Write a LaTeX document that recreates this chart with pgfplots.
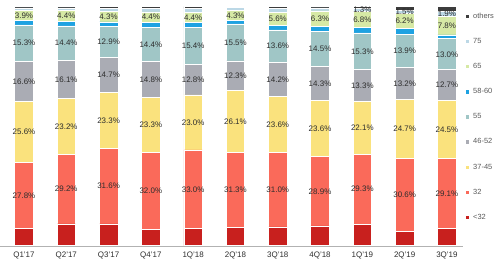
\documentclass[border=0pt]{standalone}
\usepackage{pgfplots}
\pgfplotsset{compat=1.18}
\usepackage{fontspec}
\setmainfont{Liberation Sans}
\definecolor{cA}{RGB}{200,32,30}
\definecolor{cB}{RGB}{250,106,90}
\definecolor{cC}{RGB}{250,226,125}
\definecolor{cD}{RGB}{170,172,180}
\definecolor{cE}{RGB}{160,198,198}
\definecolor{cF}{RGB}{30,162,226}
\definecolor{cG}{RGB}{214,233,165}
\definecolor{cH}{RGB}{188,216,230}
\definecolor{cI}{RGB}{60,60,60}
\definecolor{txt}{RGB}{45,45,45}
\pgfplotsset{
  lbl/.style={
    nodes near coords={\pgfplotspointmeta},
    point meta=explicit symbolic,
    every node near coord/.append style={anchor=center,
      font=\fontsize{8}{9}\selectfont, text=txt, inner sep=0pt},
  },
}
\begin{document}
\begin{tikzpicture}
\useasboundingbox (0,0) rectangle (500bp,264bp);
\begin{axis}[
  at={(0bp,18.3bp)}, anchor=south west,
  scale only axis, width=463bp, height=239bp,
  ybar stacked, bar width=18.5bp,
  xmin=-0.567, xmax=10.38, ymin=0, ymax=100,
  axis x line=bottom, axis y line=none,
  x axis line style={draw=black!30, -},
  xtick={0,...,10},
  xticklabels={Q1'17,Q2'17,Q3'17,Q4'17,1Q'18,2Q'18,3Q'18,4Q'18,1Q'19,2Q'19,3Q'19},
  major tick length=0pt,
  xticklabel style={font=\fontsize{8}{9}\selectfont, text=txt, yshift=-3bp},
  every axis plot/.append style={draw=white, line width=0.6bp},
  reverse legend,
  legend cell align=left,
  legend image code/.code={\fill[#1,draw=none] (0bp,-1.6bp) rectangle (3.2bp,1.6bp);},
  legend style={at={(1.0065,0.982)}, anchor=north west, draw=none, fill=none,
    font=\fontsize{7.5}{8}\selectfont, text=black!65, row sep=14.4bp, column sep=1.8bp,
    inner sep=0pt},
]
\addplot[fill=cA] coordinates {(0,7.1)(1,9.1)(2,9.1)(3,6.9)(4,7.1)(5,7.6)(6,7.9)(7,8.3)(8,9.0)(9,6.0)(10,7.3)};
\addplot[fill=cB,lbl] coordinates {(0,27.8)[27.8\%](1,29.2)[29.2\%](2,31.6)[31.6\%](3,32.0)[32.0\%](4,33.0)[33.0\%](5,31.3)[31.3\%](6,31.0)[31.0\%](7,28.9)[28.9\%](8,29.3)[29.3\%](9,30.6)[30.6\%](10,29.1)[29.1\%]};
\addplot[fill=cC,lbl] coordinates {(0,25.6)[25.6\%](1,23.2)[23.2\%](2,23.3)[23.3\%](3,23.3)[23.3\%](4,23.0)[23.0\%](5,26.1)[26.1\%](6,23.6)[23.6\%](7,23.6)[23.6\%](8,22.1)[22.1\%](9,24.7)[24.7\%](10,24.5)[24.5\%]};
\addplot[fill=cD,lbl] coordinates {(0,16.6)[16.6\%](1,16.1)[16.1\%](2,14.7)[14.7\%](3,14.8)[14.8\%](4,12.8)[12.8\%](5,12.3)[12.3\%](6,14.2)[14.2\%](7,14.3)[14.3\%](8,13.3)[13.3\%](9,13.2)[13.2\%](10,12.7)[12.7\%]};
\addplot[fill=cE,lbl] coordinates {(0,15.3)[15.3\%](1,14.4)[14.4\%](2,12.9)[12.9\%](3,14.4)[14.4\%](4,15.4)[15.4\%](5,15.5)[15.5\%](6,13.6)[13.6\%](7,14.5)[14.5\%](8,15.3)[15.3\%](9,13.9)[13.9\%](10,13.0)[13.0\%]};
\addplot[fill=cF] coordinates {(0,2.0)(1,2.0)(2,2.0)(3,2.0)(4,2.0)(5,1.3)(6,1.8)(7,2.3)(8,2.3)(9,2.5)(10,1.6)};
\addplot[fill=cG,lbl] coordinates {(0,3.9)[3.9\%](1,4.4)[4.4\%](2,4.3)[4.3\%](3,4.4)[4.4\%](4,4.4)[4.4\%](5,4.3)[4.3\%](6,5.6)[5.6\%](7,6.3)[6.3\%](8,6.8)[6.8\%](9,6.2)[6.2\%](10,7.8)[7.8\%]};
\addplot[fill=cH,lbl] coordinates {(0,1.2)[\relax](1,1.1)[\relax](2,1.4)[\relax](3,1.5)[\relax](4,1.6)[\relax](5,1.2)[\relax](6,1.5)[\relax](7,1.3)[\relax](8,1.3)[1.3\%](9,1.5)[1.5\%](10,1.9)[1.9\%]};
\addplot[fill=cI] coordinates {(0,0.5)(1,0.5)(2,0.7)(3,0.7)(4,0.7)(5,0.4)(6,0.8)(7,0.5)(8,0.6)(9,1.4)(10,2.1)};
\legend{<32,32,37-45,46-52,55,58-60,65,75,others}
\end{axis}
\end{tikzpicture}
\end{document}
